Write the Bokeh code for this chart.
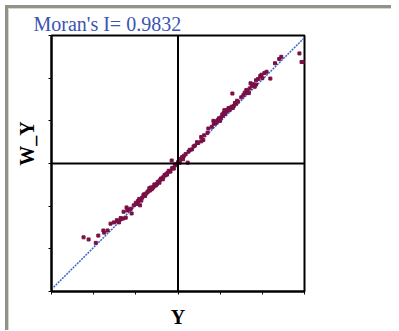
from bokeh.plotting import figure
from bokeh.models import Range1d, FixedTicker, Span
from bokeh.embed import file_html
from bokeh.resources import INLINE

# Standardized variable Y and its spatial lag W_Y
y_vals = [-2.24, -2.12, -1.89, -1.77, -1.67, -1.60, -1.52, -1.43, -1.36, -1.36, -1.24, -1.30,
          -1.29, -1.15, -1.10, -1.22, -1.00, -0.87, -0.90, -0.80, -0.70, -0.62, -0.75, -0.55,
          -0.50, -0.68, -0.58, -0.45, -0.38, -0.30, -0.25, -0.35, -0.28, -0.20, -0.12, -0.05,
          0.02, 0.05, -0.15, 0.23, 0.10, 0.18, 0.25, 0.33, 0.40, 0.48, 0.55, 0.55, 0.60,
          0.72, 0.80, 0.90, 1.00, 0.70, 0.84, 1.05, 1.15, 1.25, 1.32, 1.20, 1.10, 1.29,
          1.55, 1.68, 1.62, 1.75, 1.85, 1.72, 1.60, 1.85, 1.95, 2.00, 2.19, 2.30, 2.40,
          2.45, 2.88, 2.93, 2.98, -1.05, -0.95, -0.65, -0.42, 0.14, 0.37, 0.95, 1.40, 2.10,
          -0.95, -0.92, -0.85, -0.82, -0.78, -0.72, -0.66, -0.64, -0.60, -0.56, -0.52, -0.48,
          -0.44, -0.40, -0.36, -0.32, -0.26, -0.22, -0.18, -0.14, -0.10, -0.07, -0.03, 0.00,
          0.04, 0.07, 0.12, 0.85, 0.88, 0.93, 0.97, 1.02, 1.06, 1.08, 1.12, 1.17, 1.22,
          1.27, 1.30, 1.35, 1.38, 1.42, 1.50, 1.58, 1.65, 1.70, 1.78, 1.82, 1.90, 1.98,
          2.05, -1.45, -1.40, -1.20, -1.12, -0.98, 0.28, 0.45, 0.62, -1.75, -1.95]
wy_vals = [-1.73, -1.78, -1.69, -1.57, -1.57, -1.41, -1.38, -1.36, -1.31, -1.28, -1.27, -1.29,
           -1.13, -1.08, -1.17, -1.03, -0.92, -0.87, -0.98, -0.72, -0.65, -0.60, -0.70, -0.52,
           -0.48, -0.58, -0.55, -0.42, -0.36, -0.28, -0.22, -0.32, -0.25, -0.18, -0.10, -0.03,
           0.05, 0.08, 0.07, 0.02, 0.15, 0.22, 0.28, 0.33, 0.42, 0.48, 0.52, 0.62, 0.55,
           0.82, 0.86, 0.95, 1.00, 0.72, 1.00, 1.15, 1.22, 1.30, 1.35, 1.30, 1.25, 1.64,
           1.60, 1.65, 1.72, 1.82, 1.85, 1.88, 1.65, 1.95, 2.05, 2.00, 1.99, 2.35, 2.45,
           2.50, 2.58, 2.38, 2.38, -0.98, -0.90, -0.60, -0.38, 0.18, 0.40, 1.02, 1.47, 2.15,
           -0.88, -0.83, -0.80, -0.74, -0.76, -0.66, -0.63, -0.56, -0.57, -0.49, -0.51, -0.43,
           -0.45, -0.35, -0.37, -0.27, -0.26, -0.17, -0.19, -0.11, -0.12, -0.02, -0.04, 0.03,
           0.02, 0.11, 0.10, 0.93, 0.97, 1.00, 1.06, 1.08, 1.12, 1.18, 1.16, 1.26, 1.25,
           1.33, 1.30, 1.42, 1.40, 1.45, 1.55, 1.66, 1.70, 1.76, 1.86, 1.80, 1.98, 2.08,
           2.12, -1.33, -1.38, -1.10, -1.06, -0.95, 0.32, 0.50, 0.66, -1.62, -1.86]
morans_i = 0.9832
axis_ticks = [-3, -2, -1, 0, 1, 2, 3]
x_lim = [-3, 3]
x_label = "Y"
y_label = "W_Y"

p = figure(frame_width=253, frame_height=256, output_backend="svg", toolbar_location=None,
           x_range=Range1d(-3, 3), y_range=Range1d(-3, 3),
           min_border_left=51, min_border_right=87, min_border_top=35, min_border_bottom=36,
           title="Moran's I= %.4f" % morans_i)
p.background_fill_color = "white"
p.border_fill_color = None
p.styles = {"background-color": "white",
            "box-shadow": "inset 5px 5px 0 0 white, inset 8px 8px 0 0 #8f9488, inset 9px 9px 0 0 #d6d6ce"}
p.grid.visible = False
p.outline_line_color = "black"
p.outline_line_width = 2

p.title.text_font = "Liberation Serif"
p.title.text_font_size = "20px"
p.title.text_font_style = "normal"
p.title.text_color = "#3a55b0"
p.title.offset = -18
p.title.standoff = 2

for ax in (p.xaxis[0], p.yaxis[0]):
    ax.ticker = FixedTicker(ticks=axis_ticks)
    ax.minor_tick_line_color = None
    ax.major_tick_out = 3
    ax.major_tick_in = 0
    ax.major_tick_line_width = 1
    ax.major_tick_line_color = "black"
    ax.axis_line_width = 2
    ax.axis_line_color = "black"
    ax.major_label_text_font_size = "1px"
    ax.major_label_text_color = None
    ax.major_label_standoff = 0
    ax.axis_label_text_font = "Liberation Serif"
    ax.axis_label_text_font_size = "20px"
    ax.axis_label_text_font_style = "bold"
    ax.axis_label_text_color = "black"

# leading no-break spaces lift the rotated label above the frame centre, as in the reference
p.yaxis.axis_label = "\u00a0" * 8 + y_label
p.xaxis.axis_label = x_label
p.xaxis.axis_label_standoff = 11
p.yaxis.axis_label_standoff = 11

p.add_layout(Span(location=0, dimension="height", line_color="black", line_width=2))
p.add_layout(Span(location=0, dimension="width", line_color="black", line_width=2))

# regression line with slope = Moran's I
p.line(x_lim, [morans_i * v for v in x_lim], line_color="#3c64c8", line_width=1.5, line_dash="2 1")

p.scatter(y_vals, wy_vals, marker="square", size=3, fill_color="#7a1045", line_color="#7a1045")

open("out.html", "w").write(file_html(p, INLINE))
